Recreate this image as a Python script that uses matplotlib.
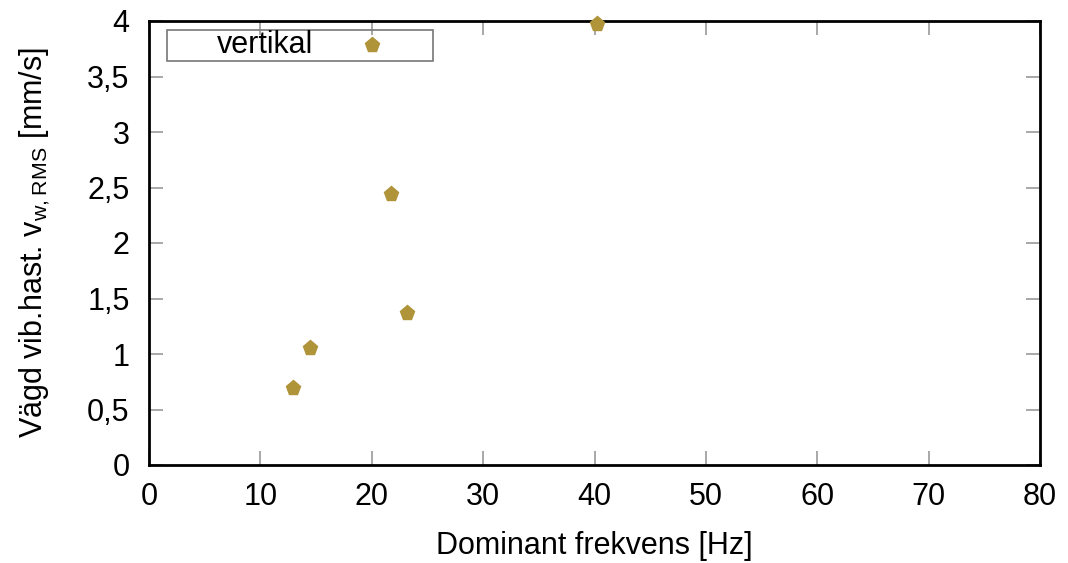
import matplotlib.pyplot as plt
import matplotlib.ticker as ticker
from matplotlib.patches import Rectangle

plt.rcParams['font.family'] = ['Liberation Sans', 'DejaVu Sans']
plt.rcParams['mathtext.fontset'] = 'custom'
plt.rcParams['mathtext.rm'] = 'Liberation Sans'

# data
freq = [12.9, 14.45, 21.7, 23.2, 40.2]
vrms = [0.69, 1.05, 2.44, 1.37, 3.97]
xticks = [0, 10, 20, 30, 40, 50, 60, 70, 80]
yticks = [0, 0.5, 1, 1.5, 2, 2.5, 3, 3.5, 4]

col = '#b0943a'
fs = 22

fig = plt.figure(figsize=(10.68, 5.63), dpi=100)
ax = fig.add_axes([149 / 1068, 1 - 465 / 563, (1040 - 149) / 1068, (465 - 21) / 563])

ax.plot(freq, vrms, linestyle='none', marker='p', markersize=11,
        color=col, markeredgecolor=col, clip_on=False, zorder=5)

ax.set_xlim(0, 80)
ax.set_ylim(0, 4)
ax.set_xticks(xticks)
ax.set_yticks(yticks)
ax.yaxis.set_major_formatter(ticker.FuncFormatter(
    lambda v, p: ('%g' % v).replace('.', ',')))

for s in ax.spines.values():
    s.set_linewidth(2)
    s.set_color('black')

ax.tick_params(direction='in', length=10, width=1.2, color='#999999',
               labelsize=fs, top=True, right=True)
ax.tick_params(axis='y', pad=14)
ax.tick_params(axis='x', pad=12)

ax.set_xlabel('Dominant frekvens [Hz]', fontsize=fs, labelpad=14)
ax.set_ylabel('Vägd vib.hast. v$_{\\mathregular{w,RMS}}$ [mm/s]', fontsize=fs, labelpad=25)

# gnuplot style key: text left, symbol right, grey box
ax.add_patch(Rectangle((0.020, 0.91), 0.299, 0.07, transform=ax.transAxes,
                       fill=False, edgecolor='#777777', linewidth=1.2, zorder=6))
ax.text(0.0763, 0.945, 'vertikal', transform=ax.transAxes, fontsize=fs,
        ha='left', va='center', zorder=6)
ax.plot([0.250], [0.945], transform=ax.transAxes, linestyle='none', marker='p',
        markersize=11, color=col, markeredgecolor=col, zorder=6)

fig.savefig('out.png', dpi=100)
